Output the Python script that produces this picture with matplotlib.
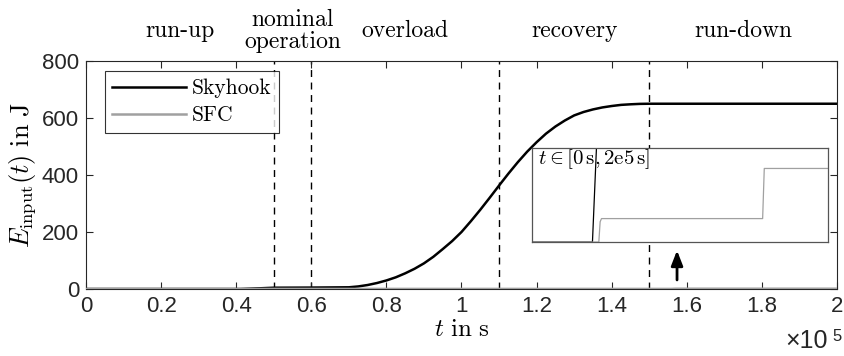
import matplotlib
matplotlib.use("Agg")
import matplotlib.pyplot as plt

plt.rcParams['mathtext.fontset'] = 'cm'
plt.rcParams['font.family'] = ['Liberation Sans', 'DejaVu Sans']

# time in 1e5 s, energy in J
t_sky = [0, 0.41, 0.455, 0.5, 0.6, 0.7, 0.725, 0.75, 0.775, 0.8, 0.825, 0.85, 0.875,
         0.9, 0.925, 0.95, 0.975, 1.0, 1.025, 1.05, 1.075, 1.1, 1.125, 1.15, 1.175,
         1.2, 1.225, 1.25, 1.275, 1.3, 1.325, 1.35, 1.375, 1.4, 1.425, 1.45, 1.475, 1.5, 2.0]
e_sky = [0, 0, 2.0, 4.5, 5, 6, 9, 14, 21, 30, 41, 55, 71,
         90, 113, 140, 168, 200, 238, 278, 320, 363, 405, 445, 482,
         515, 545, 570, 591, 609, 621, 630, 637, 642, 646, 648, 649.5, 650, 650]
t_sfc = [0, 0.453, 0.462, 0.471, 1.559, 1.57, 2.0]
e_sfc = [0, 0, 0.26, 0.30, 0.30, 0.94, 0.94]

phase_bounds = [0.5, 0.6, 1.1, 1.5]
phase_labels = ['run-up', 'nominal\noperation', 'overload', 'recovery', 'run-down']
phase_centers = [0.25, 0.55, 0.85, 1.3, 1.75]

xticks = [0, 0.2, 0.4, 0.6, 0.8, 1.0, 1.2, 1.4, 1.6, 1.8, 2.0]
xticklabels = ['0', '0.2', '0.4', '0.6', '0.8', '1', '1.2', '1.4', '1.6', '1.8', '2']
yticks = [0, 200, 400, 600, 800]

grey = '#262626'
fig = plt.figure(figsize=(8.44, 3.56), dpi=100)
ax = fig.add_axes([0.1019, 0.1882, 0.8898, 0.6405])

for b in phase_bounds:
    ax.axvline(b, color='black', ls=(0, (5, 4)), lw=1.0, zorder=1)
ax.plot(t_sky, e_sky, color='black', lw=1.8, label='Skyhook', zorder=3)
ax.plot(t_sfc, e_sfc, color='#a0a0a0', lw=1.8, label='SFC', zorder=4)

ax.set_xlim(0, 2)
ax.set_ylim(0, 800)
ax.set_xticks(xticks)
ax.set_xticklabels(xticklabels)
ax.set_yticks(yticks)
ax.tick_params(direction='in', length=5, width=0.8, colors=grey, labelsize=16,
               top=True, right=True, pad=5)
for s in ax.spines.values():
    s.set_color(grey)
    s.set_linewidth(0.8)

ax.set_xlabel(r'$t\ \mathrm{in\ s}$', fontsize=18, labelpad=0)
ax.set_ylabel(r'$E_{\mathrm{input}}(t)\ \mathrm{in\ J}$', fontsize=19, labelpad=3)

for lab, c in zip(phase_labels, phase_centers):
    ax.text(c, 1.13, lab, transform=ax.get_xaxis_transform(), ha='center', va='center',
            family='cmr10', fontsize=17, linespacing=1.0)

fig.text(0.931, 0.008, '×10', fontsize=18, color=grey, ha='left', va='bottom')
fig.text(0.986, 0.035, '5', fontsize=12, color=grey, ha='left', va='bottom')

leg = ax.legend(loc='upper left', bbox_to_anchor=(0.025, 0.955), frameon=True, fancybox=False,
                prop={'family': 'cmr10', 'size': 15.5}, handlelength=3.4, borderpad=0.35,
                labelspacing=0.35, handletextpad=0.3, borderaxespad=0)
leg.get_frame().set_edgecolor('black')
leg.get_frame().set_linewidth(0.8)

ax.annotate('', xy=(1.574, 145), xytext=(1.574, 22),
            arrowprops=dict(arrowstyle='-|>,head_width=0.35,head_length=0.9', color='black', lw=2))

ins = fig.add_axes([0.630, 0.320, 0.351, 0.264])
ins.plot(t_sky, e_sky, color='black', lw=0.9)
ins.plot(t_sfc, e_sfc, color='#a0a0a0', lw=0.9)
ins.set_xlim(0, 2)
ins.set_ylim(0, 1.2)
ins.set_xticks([])
ins.set_yticks([])
for s in ins.spines.values():
    s.set_color('#555555')
    s.set_linewidth(0.9)
ins.text(0.02, 0.88, r'$t \in [0\,\mathrm{s}, 2\mathrm{e}5\,\mathrm{s}]$', transform=ins.transAxes,
         ha='left', va='center', fontsize=15)

fig.savefig('out.png', dpi=100)
